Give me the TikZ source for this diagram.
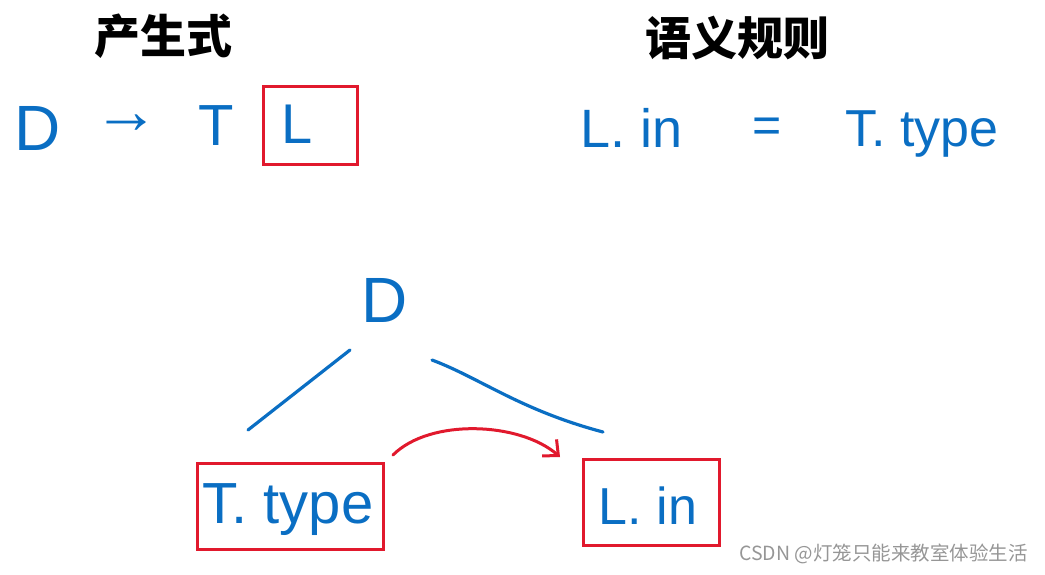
\documentclass[tikz,border=0pt]{standalone}
\usepackage{fontspec}
\setmainfont{Liberation Sans}
\newfontfamily\cjk{Noto Sans CJK SC}
\usetikzlibrary{arrows.meta}
\definecolor{hblue}{RGB}{10,110,195}
\definecolor{hred}{RGB}{225,25,45}
\definecolor{wm}{RGB}{150,150,150}
\tikzset{
  hand/.style={text=hblue, inner sep=0pt, font=\fontsize{#1}{#1}\selectfont},
  hand/.default=58,
  title/.style={inner sep=0pt, font=\cjk\bfseries\fontsize{46}{46}\selectfont},
  redbox/.style={draw=hred, line width=3pt, rectangle, inner sep=0pt},
  bline/.style={draw=hblue, line width=3.2pt, line cap=round},
  rline/.style={draw=hred, line width=3pt, line cap=round},
}
\begin{document}
\begin{tikzpicture}[x=1pt,y=-1pt]
\useasboundingbox (0,0) rectangle (1045,574);
% titles
\node[title] (t1) at (163,36) {产生式};
\node[title] (t2) at (737,38) {语义规则};
% production row
\node[hand=64] (pD) at (38,128) {D};
\node[hand=66] (parr) at (126,124) {→};
\node[hand=58] (pT) at (216,126) {T};
\node[redbox, minimum width=94pt, minimum height=78pt] (pLbox) at (310,125) {};
\node[hand=56] (pL) at (297,124) {L};
% semantic rule
\node[hand=54] (sL) at (632,128) {L. in};
\node[hand=50] (seq) at (767,130) {=};
\node[hand=52] (sT) at (922,134) {T. type};
% tree
\node[hand=64] (tD) at (385,300) {D};
\node[redbox, minimum width=186pt, minimum height=86pt] (tT) at (290,506) {};
\node[hand=58] (tTt) at (288,510) {T. type};
\node[redbox, minimum width=136pt, minimum height=86pt] (tL) at (651,502) {};
\node[hand=52] (tLt) at (648,506) {L. in};
\coordinate (a1) at (350,350);
\coordinate (a2) at (248,430);
\coordinate (b1) at (432,360);
\coordinate (b2) at (603,432);
\draw[bline] (a1) -- (a2);
\draw[bline] (b1) .. controls (480,378) and (520,410) .. (b2);
\coordinate (r1) at (393,455);
\coordinate (r2) at (560,457);
\draw[rline, -{Straight Barb[length=12pt,width=22pt,line width=3pt]}] (r1) .. controls (430,418) and (520,422) .. (r2);
% watermark
\node[text=wm, anchor=east, inner sep=0pt, font=\cjk\fontsize{19.5}{19.5}\selectfont] (wmk) at (1028,554) {CSDN @灯笼只能来教室体验生活};
\end{tikzpicture}
\end{document}
